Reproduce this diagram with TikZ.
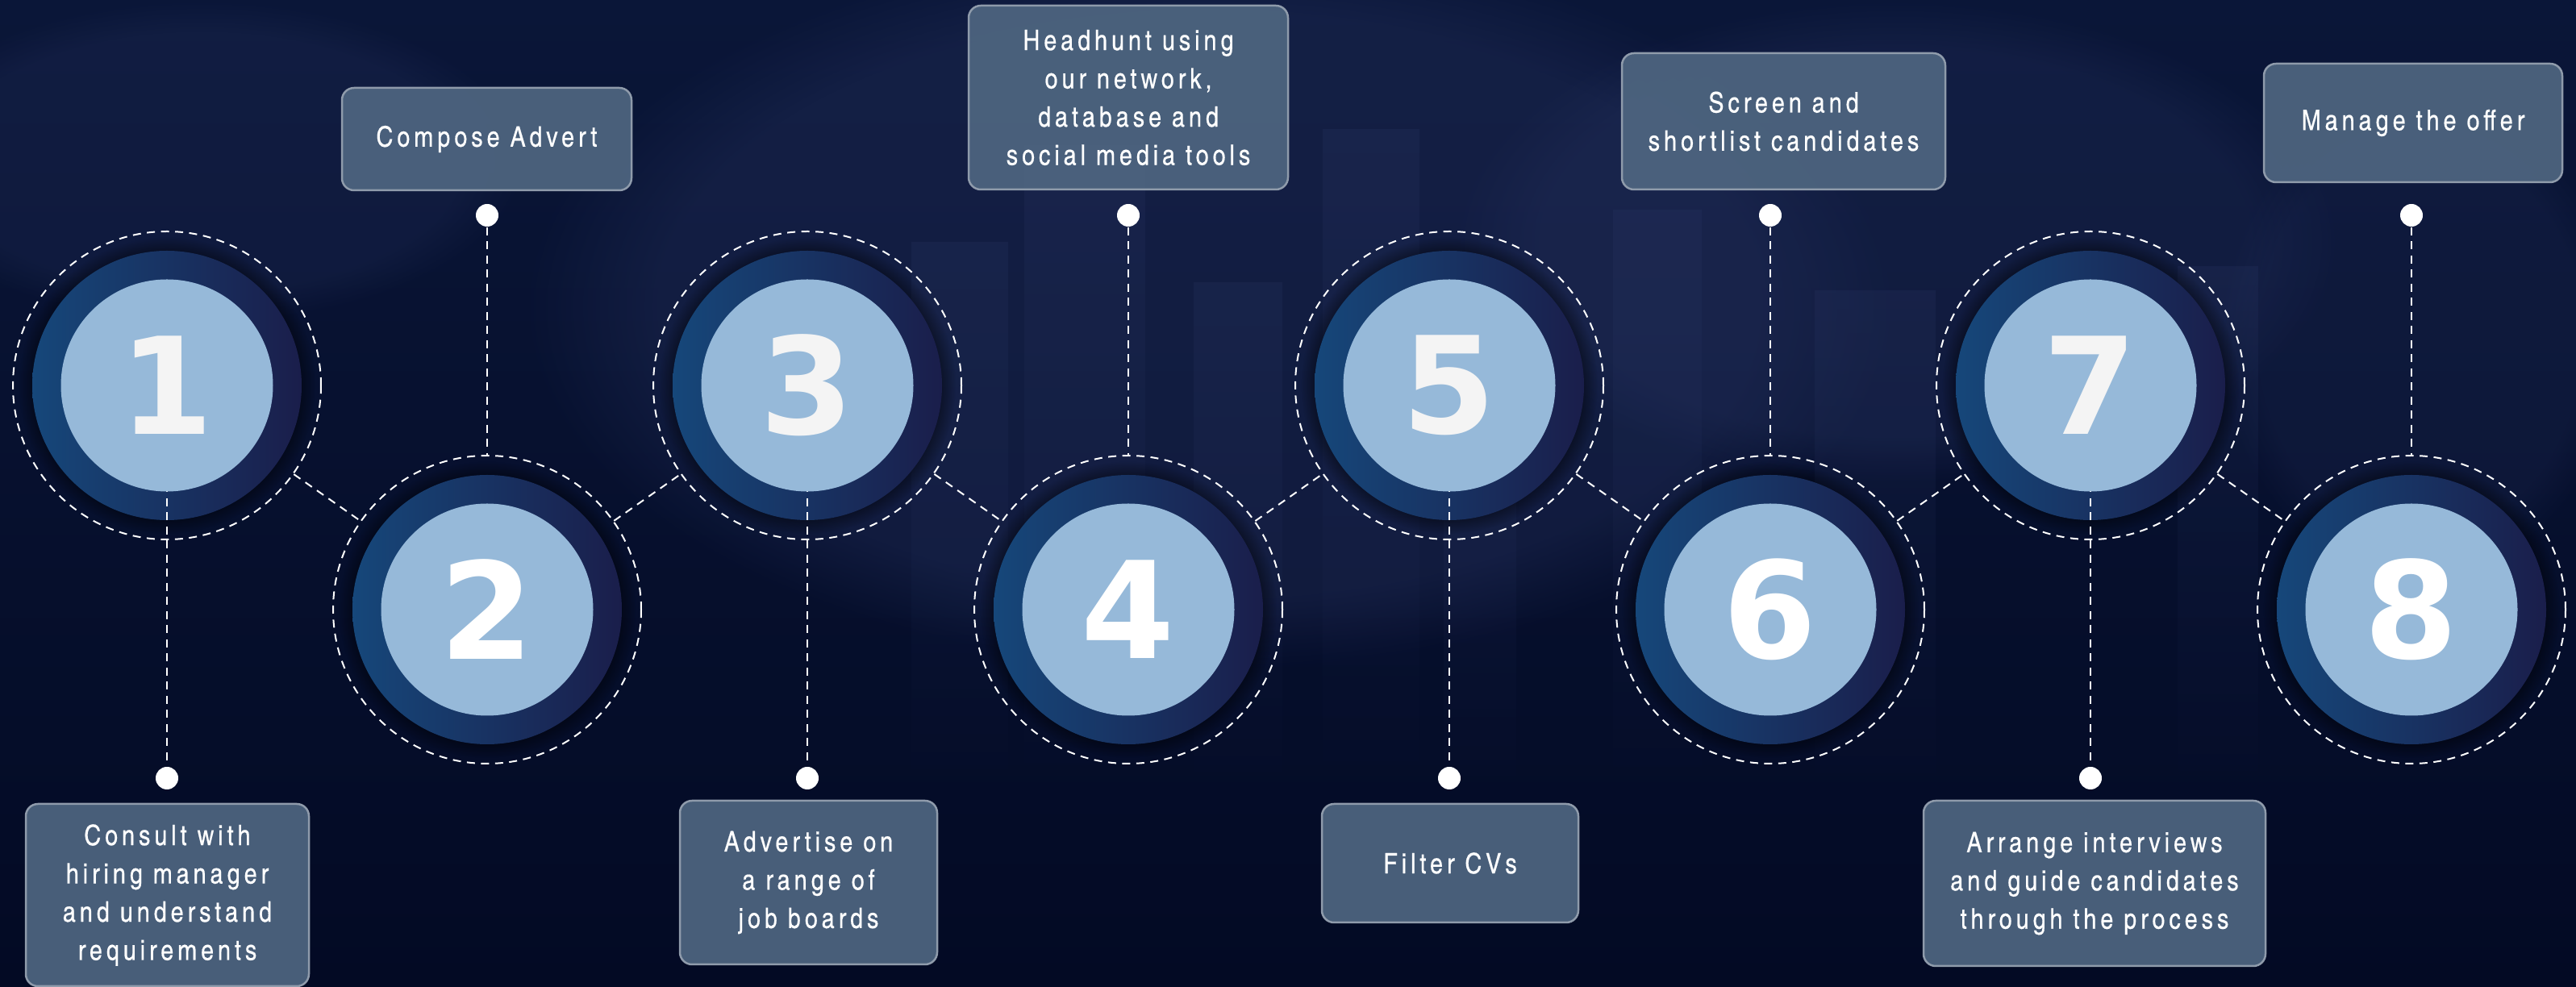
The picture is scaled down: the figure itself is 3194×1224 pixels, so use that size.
\documentclass[tikz,border=0pt]{standalone}
\usepackage{fontspec}
\usetikzlibrary{shadows,fadings}
\newfontfamily\cardfont{TeX Gyre Heros Cn}[LetterSpace=14, FakeBold=0.4]
\newfontfamily\numfont{DejaVu Sans}
\definecolor{bgtop}{HTML}{0A1638}
\definecolor{bgbot}{HTML}{030A24}
\definecolor{haze}{HTML}{26325F}
\definecolor{tower}{HTML}{2A3764}
\definecolor{ringL}{HTML}{16477A}
\definecolor{ringR}{HTML}{1A1E4B}
\definecolor{coreblue}{HTML}{96B9D9}
\definecolor{cardfill}{HTML}{4E6580}
\definecolor{cardedge}{HTML}{8F9BAB}
\definecolor{numwhite}{HTML}{F4F4F4}
\tikzfading[name=towerfade, top color=transparent!0, bottom color=transparent!100]
\tikzset{
  halo/.style={circle, draw=white, line width=0.2mm, dash pattern=on 1mm off 0.75mm, minimum size=38.2mm, inner sep=0pt},
  ring/.style={circle, left color=ringL, right color=ringR, minimum size=33.4mm, inner sep=0pt,
    circular drop shadow={shadow xshift=0pt, shadow yshift=0pt, shadow scale=1.1, fill=black, opacity=.6}},
  core/.style={circle, fill=coreblue, minimum size=26.3mm, inner sep=0pt, text=numwhite,
    font=\numfont\bfseries\fontsize{47.5}{50}\selectfont},
  link/.style={white, line width=0.2mm, dash pattern=on 1mm off 0.75mm},
  dot/.style={circle, fill=white, minimum size=2.8mm, inner sep=0pt},
  tower/.style={fill=tower, opacity=.25, path fading=towerfade},
  card/.style={rectangle, rounded corners=1.5mm, fill=cardfill, fill opacity=.93, text opacity=1,
    draw=cardedge, line width=0.25mm, text=white, align=center, inner sep=0pt,
    font=\cardfont\fontsize{10}{13.5}\selectfont}
}
\begin{document}
\begin{tikzpicture}[x=0.1mm, y=-0.1mm]
    \useasboundingbox (0,0) rectangle (3194,1224);
    \clip (0,0) rectangle (3194,1224);
    \fill[top color=bgtop, bottom color=bgbot] (0,0) rectangle (3194,1224);
    \fill[haze, opacity=.35, path fading=circle with fuzzy edge 20 percent] (1500,380) ellipse (85mm and 45mm);
    \fill[haze, opacity=.30, path fading=circle with fuzzy edge 20 percent] (2350,300) ellipse (55mm and 30mm);
    \fill[haze, opacity=.25, path fading=circle with fuzzy edge 20 percent] (250,200) ellipse (40mm and 20mm);
    \fill[haze, opacity=.22, path fading=circle with fuzzy edge 20 percent] (3000,420) ellipse (25mm and 30mm);
    \fill[tower] (1130,300) rectangle (1250,1000);
    \fill[tower] (1270,180) rectangle (1420,1000);
    \fill[tower] (1480,350) rectangle (1590,1000);
    \fill[tower] (1640,160) rectangle (1760,1000);
    \fill[tower] (1790,420) rectangle (1880,1000);
    \fill[tower] (2000,260) rectangle (2110,1000);
    \fill[tower] (2250,360) rectangle (2400,1000);
    \fill[tower] (2700,330) rectangle (2800,1000);

    \node[ring] (r1) at (207,478) {};
    \node[ring] (r2) at (604,756) {};
    \node[ring] (r3) at (1001,478) {};
    \node[ring] (r4) at (1399,756) {};
    \node[ring] (r5) at (1797,478) {};
    \node[ring] (r6) at (2195,756) {};
    \node[ring] (r7) at (2592,478) {};
    \node[ring] (r8) at (2990,756) {};

    \node[halo] (h1) at (r1) {};
    \node[halo] (h2) at (r2) {};
    \node[halo] (h3) at (r3) {};
    \node[halo] (h4) at (r4) {};
    \node[halo] (h5) at (r5) {};
    \node[halo] (h6) at (r6) {};
    \node[halo] (h7) at (r7) {};
    \node[halo] (h8) at (r8) {};

    \draw[link] (h1) -- (h2);
    \draw[link] (h2) -- (h3);
    \draw[link] (h3) -- (h4);
    \draw[link] (h4) -- (h5);
    \draw[link] (h5) -- (h6);
    \draw[link] (h6) -- (h7);
    \draw[link] (h7) -- (h8);

    \node[dot] (d1) at (207,965) {};
    \node[dot] (d2) at (604,267) {};
    \node[dot] (d3) at (1001,965) {};
    \node[dot] (d4) at (1399,267) {};
    \node[dot] (d5) at (1797,965) {};
    \node[dot] (d6) at (2195,267) {};
    \node[dot] (d7) at (2592,965) {};
    \node[dot] (d8) at (2990,267) {};

    \draw[link] (r1.center) -- (d1);
    \draw[link] (d2) -- (h2);
    \draw[link] (r3.center) -- (d3);
    \draw[link] (d4) -- (h4);
    \draw[link] (r5.center) -- (d5);
    \draw[link] (d6) -- (h6);
    \draw[link] (r7.center) -- (d7);
    \draw[link] (d8) -- (h8);

    \node[core] (c1) at (r1) {1};
    \node[core, text=white] (c2) at (r2) {2};
    \node[core] (c3) at (r3) {3};
    \node[core, text=white] (c4) at (r4) {4};
    \node[core] (c5) at (r5) {5};
    \node[core, text=white] (c6) at (r6) {6};
    \node[core] (c7) at (r7) {7};
    \node[core, text=white] (c8) at (r8) {8};

    \node[card, minimum width=35.1mm, minimum height=22.6mm] (b1) at (207.5,1110) {Consult with\\hiring manager\\and understand\\requirements};
    \node[card, minimum width=35.9mm, minimum height=12.7mm] (b2) at (603.5,172.5) {Compose Advert};
    \node[card, minimum width=31.9mm, minimum height=20.3mm] (b3) at (1002.5,1094.5) {Advertise on\\a range of\\job boards};
    \node[card, minimum width=39.6mm, minimum height=22.8mm] (b4) at (1399,121) {Headhunt using\\our network,\\database and\\social media tools};
    \node[card, minimum width=31.8mm, minimum height=14.7mm] (b5) at (1798,1070.5) {Filter CVs};
    \node[card, minimum width=40.1mm, minimum height=16.9mm] (b6) at (2211.5,150.5) {Screen and\\shortlist candidates};
    \node[card, minimum width=42.4mm, minimum height=20.5mm] (b7) at (2597,1095.5) {Arrange interviews\\and guide candidates\\through the process};
    \node[card, minimum width=37.0mm, minimum height=14.7mm] (b8) at (2992,152.5) {Manage the offer};
\end{tikzpicture}
\end{document}
